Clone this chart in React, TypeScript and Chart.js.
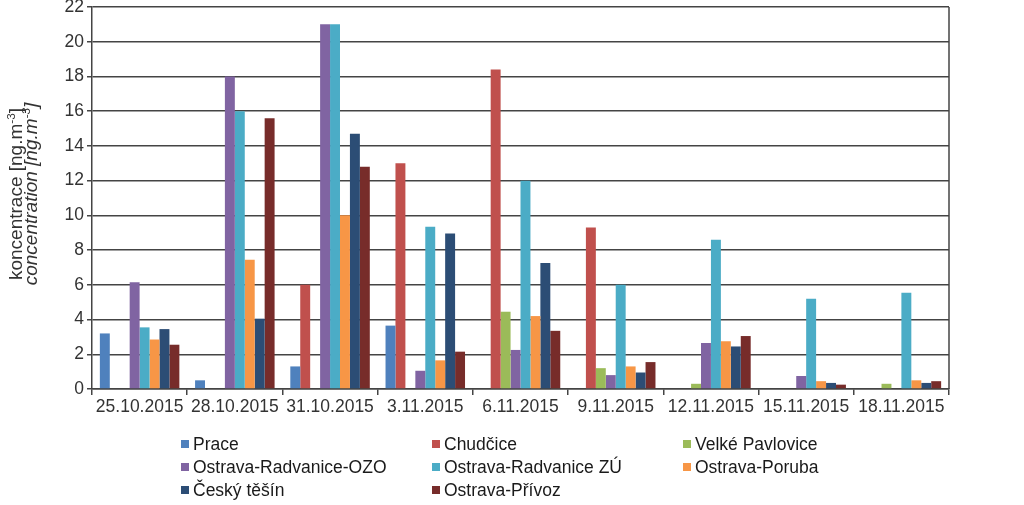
import React, { useEffect, useRef } from 'react';
import { Chart, registerables } from 'chart.js';
Chart.register(...registerables);

const categories = ['25.10.2015', '28.10.2015', '31.10.2015', '3.11.2015', '6.11.2015', '9.11.2015', '12.11.2015', '15.11.2015', '18.11.2015'];
const seriesNames = ['Prace', 'Chudčice', 'Velké Pavlovice', 'Ostrava-Radvanice-OZO', 'Ostrava-Radvanice ZÚ', 'Ostrava-Poruba', 'Český těšín', 'Ostrava-Přívoz'];
const prace = [3.2, 0.5, 1.3, 3.65, 0, 0, 0, 0, 0];
const chudcice = [0, 0, 6.0, 13.0, 18.4, 9.3, 0, 0, 0];
const velkePavlovice = [0, 0, 0, 0, 4.45, 1.2, 0.3, 0, 0.3];
const radvaniceOzo = [6.15, 18.0, 21.0, 1.05, 2.25, 0.8, 2.65, 0.75, 0];
const radvaniceZu = [3.55, 16.0, 21.0, 9.35, 12.0, 6.0, 8.6, 5.2, 5.55];
const poruba = [2.85, 7.45, 10.0, 1.65, 4.2, 1.3, 2.75, 0.45, 0.5];
const ceskyTesin = [3.45, 4.05, 14.7, 8.95, 7.25, 0.95, 2.45, 0.35, 0.35];
const privoz = [2.55, 15.6, 12.8, 2.15, 3.35, 1.55, 3.05, 0.25, 0.45];
const seriesData = [prace, chudcice, velkePavlovice, radvaniceOzo, radvaniceZu, poruba, ceskyTesin, privoz];
const seriesColors = ['#4F81BD', '#C0504D', '#9BBB59', '#8064A2', '#4BACC6', '#F79646', '#2C4D75', '#772C2A'];
const yMin = 0;
const yMax = 22;
const yStep = 2;

const FONT = '"Liberation Sans", Arial, sans-serif';
const GRID = '#444444';
const TEXT = '#333333';
const FS = 17.5;
const TFS = 19;

const overlay = {
  id: 'overlay',
  afterDraw(chart: any) {
    const ctx = chart.ctx as CanvasRenderingContext2D;
    const a = chart.chartArea;
    ctx.save();
    // right border
    ctx.strokeStyle = GRID;
    ctx.lineWidth = 1.5;
    ctx.beginPath();
    ctx.moveTo(a.right, a.top);
    ctx.lineTo(a.right, a.bottom);
    ctx.stroke();

    // y title (two lines, with superscript)
    const drawLine = (parts: { t: string; sup?: boolean }[], x: number, italic: boolean) => {
      const style = italic ? 'italic ' : '';
      const main = `${style}${TFS}px ${FONT}`;
      const small = `${style}${TFS * 0.62}px ${FONT}`;
      let total = 0;
      const widths = parts.map((p) => {
        ctx.font = p.sup ? small : main;
        const w = ctx.measureText(p.t).width;
        total += w;
        return w;
      });
      ctx.save();
      ctx.translate(x, (a.top + a.bottom) / 2 - 4);
      ctx.rotate(-Math.PI / 2);
      ctx.fillStyle = TEXT;
      ctx.textBaseline = 'alphabetic';
      ctx.textAlign = 'left';
      let pos = -total / 2;
      parts.forEach((p, i) => {
        ctx.font = p.sup ? small : main;
        ctx.fillText(p.t, pos, p.sup ? -TFS * 0.38 : 0);
        pos += widths[i];
      });
      ctx.restore();
    };
    drawLine([{ t: 'koncentrace [ng.m' }, { t: '-3', sup: true }, { t: ']' }], 22, false);
    drawLine([{ t: 'concentration [ng.m' }, { t: '-3', sup: true }, { t: ']' }], 37, true);

    // legend
    const cols = [181, 432, 683];
    const rows = [444, 467, 490];
    ctx.font = `${FS}px ${FONT}`;
    ctx.textBaseline = 'middle';
    ctx.textAlign = 'left';
    seriesNames.forEach((name, i) => {
      const cx = cols[i % 3];
      const cy = rows[Math.floor(i / 3)];
      ctx.fillStyle = seriesColors[i];
      ctx.fillRect(cx, cy - 4, 8, 8);
      ctx.fillStyle = '#1a1a1a';
      ctx.fillText(name, cx + 12, cy + 1);
    });
    ctx.restore();
  },
};

export default function App() {
  const ref = useRef<HTMLCanvasElement>(null);
  useEffect(() => {
    document.body.style.margin = '0';
    const chart = new Chart(ref.current!, {
      type: 'bar',
      data: {
        labels: categories,
        datasets: seriesNames.map((n, i) => ({
          label: n,
          data: seriesData[i],
          backgroundColor: seriesColors[i],
          borderWidth: 0,
          barPercentage: 1,
          categoryPercentage: 0.835,
        })),
      },
      options: {
        animation: false,
        responsive: false,
        maintainAspectRatio: false,
        devicePixelRatio: 1,
        layout: { padding: { left: 0, right: 75, top: 7, bottom: 86 } },
        plugins: { legend: { display: false }, tooltip: { enabled: false } },
        scales: {
          x: {
            grid: { offset: true, drawOnChartArea: false, tickLength: 6, color: GRID, lineWidth: 1.5 },
            border: { color: GRID, width: 1.5 },
            ticks: { font: { family: FONT, size: FS }, color: TEXT, padding: 2, maxRotation: 0, autoSkip: false },
            afterFit: (s: any) => {
              s.height = 30;
              s.paddingLeft = 0;
              s.paddingRight = 0;
            },
          },
          y: {
            min: yMin,
            max: yMax,
            ticks: { stepSize: yStep, font: { family: FONT, size: FS }, color: TEXT, padding: 3 },
            grid: { color: GRID, lineWidth: 1.5, tickLength: 5 },
            border: { color: GRID, width: 1.5 },
            afterFit: (s: any) => {
              s.width = 92;
              s.paddingTop = 0;
              s.paddingBottom = 0;
            },
          },
        },
      },
      plugins: [overlay],
    });
    return () => chart.destroy();
  }, []);
  return (
    <div style={{ width: 1024, height: 505 }}>
      <canvas ref={ref} width={1024} height={505} style={{ display: 'block', width: 1024, height: 505 }} />
    </div>
  );
}
